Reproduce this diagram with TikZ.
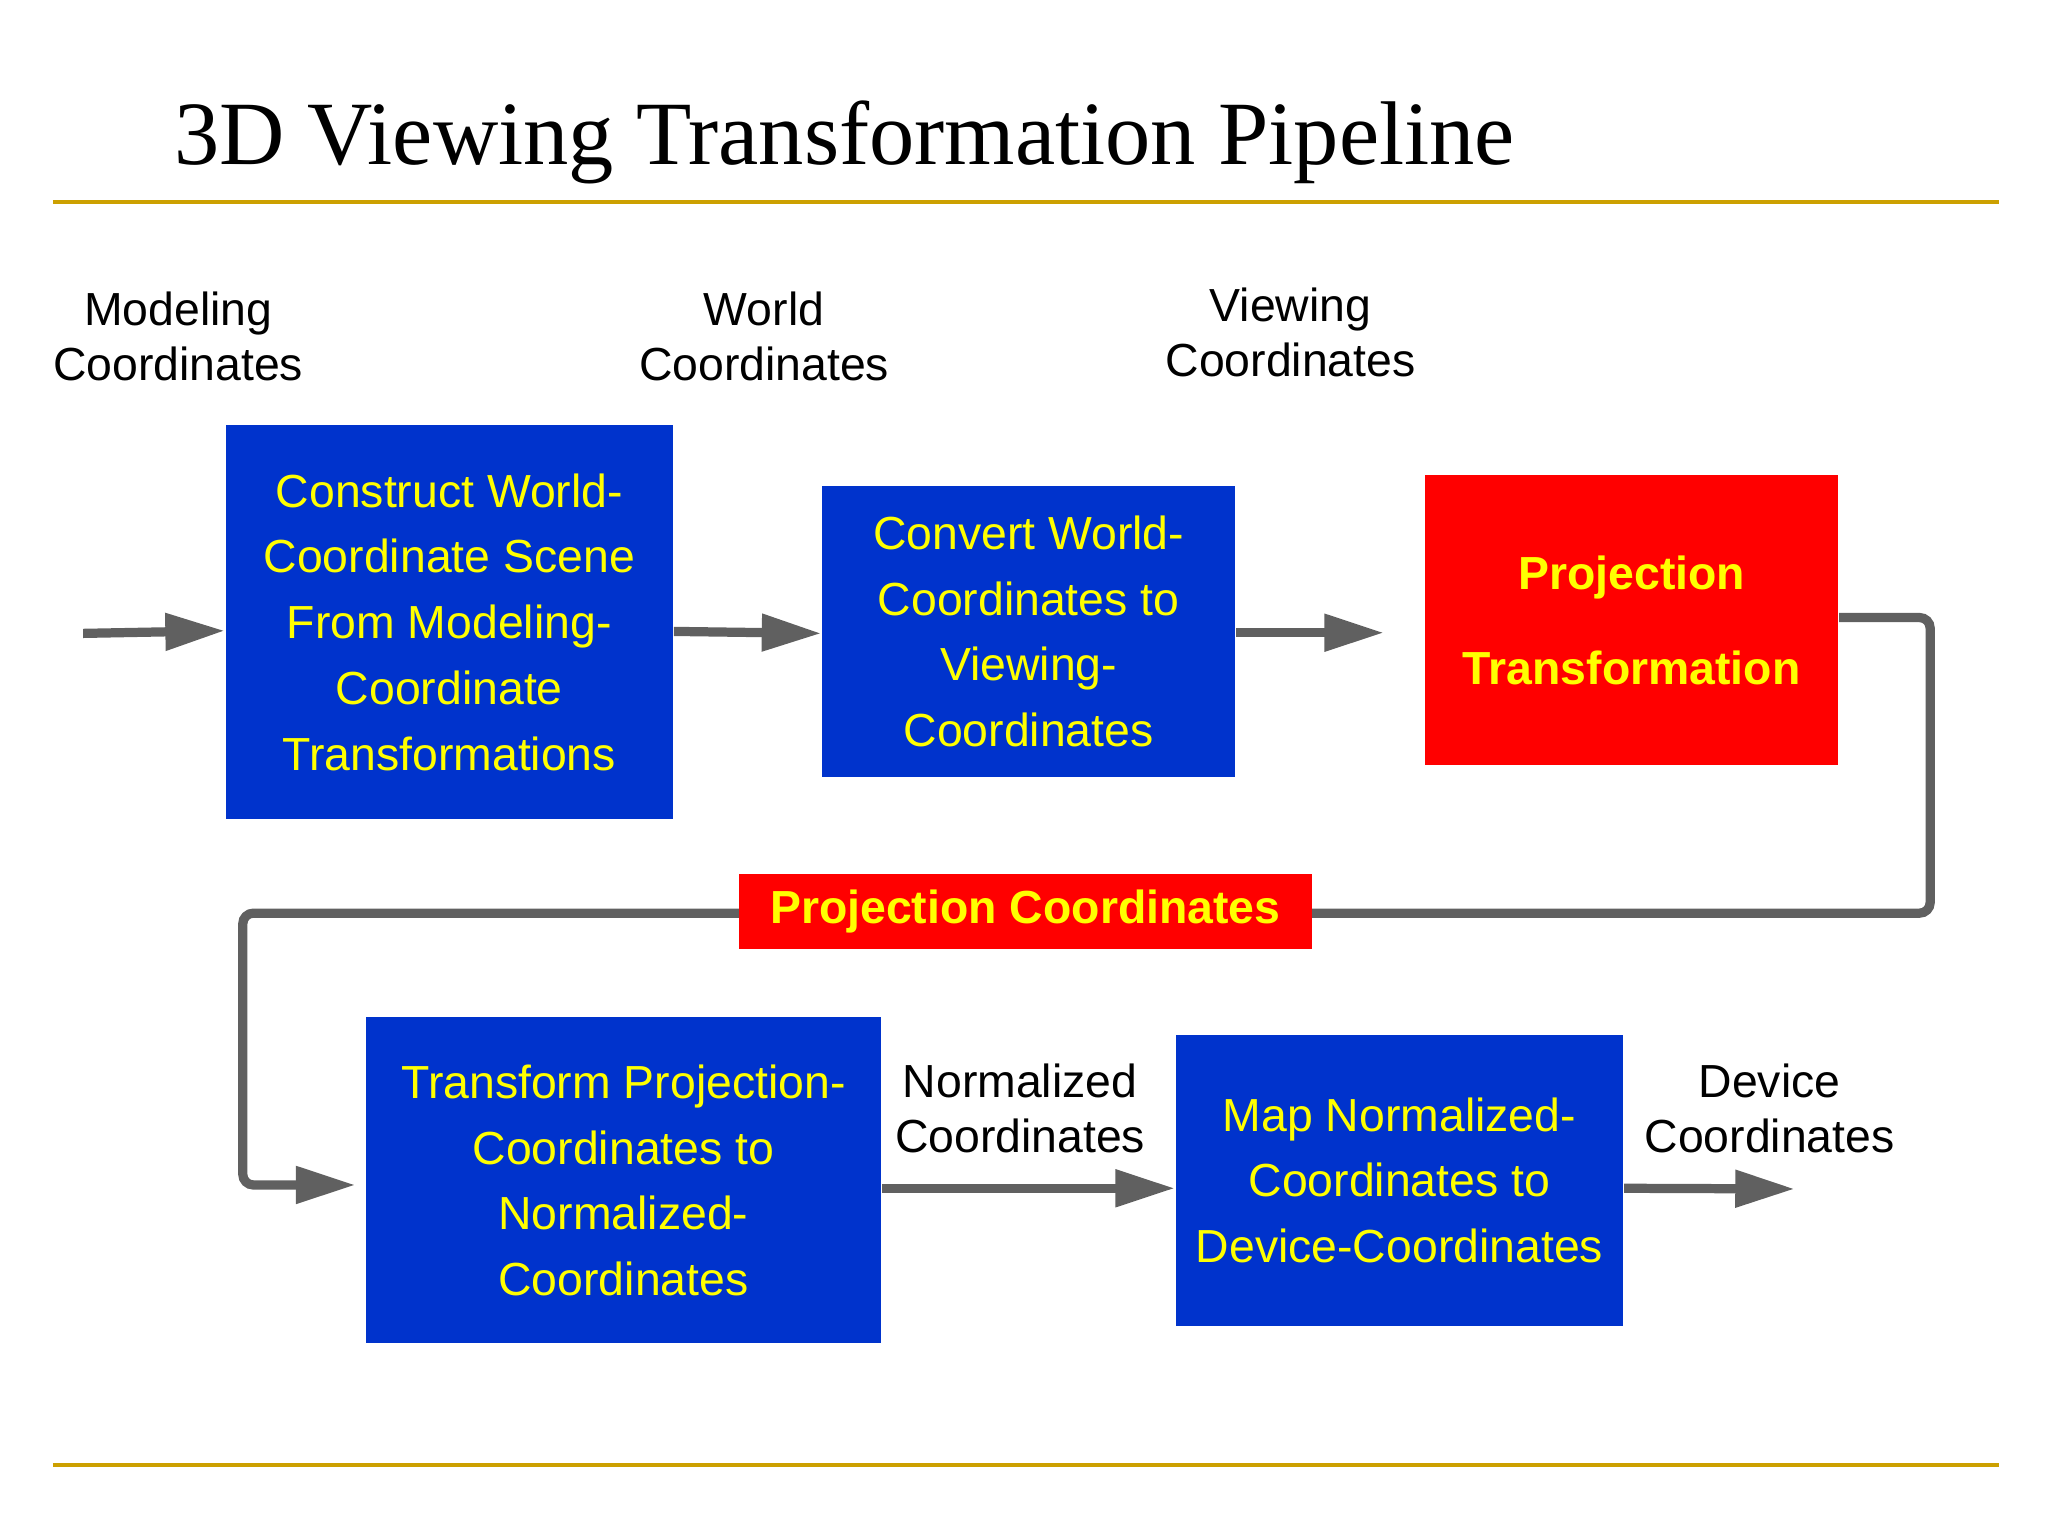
\documentclass[tikz,border=0pt]{standalone}
\usepackage{fontspec}
\setmainfont{Liberation Sans}
\newfontfamily\titlefont{Liberation Serif}
\usetikzlibrary{positioning,arrows.meta}
\definecolor{stageblue}{RGB}{0,51,204}
\definecolor{rulegold}{RGB}{204,160,0}
\definecolor{pipegray}{RGB}{96,96,96}
\definecolor{textyellow}{RGB}{255,255,0}

\begin{document}
\begin{tikzpicture}[
      stage/.style={rectangle, fill=stageblue, text=textyellow, align=center, font=\fontsize{10}{14.2}\selectfont, inner sep=0pt},
      hot/.style={rectangle, fill=red, text=textyellow, align=center, font=\bfseries\fontsize{10}{20.4}\selectfont, inner sep=0pt},
      lbl/.style={align=center, font=\fontsize{10}{11.8}\selectfont},
      pipe/.style={draw=pipegray, line width=0.07cm, -{Triangle[length=0.45cm, width=0.27cm]}},
      ]
      \useasboundingbox (0,0) rectangle (15.52,-11.64);
      \node[anchor=base west, font=\titlefont\fontsize{19.5}{22}\selectfont] (title) at (1.20,-1.25) {3D Viewing Transformation Pipeline};
      \draw[rulegold, line width=0.03cm] (0.40,-1.53) -- (15.15,-1.53);
      \draw[rulegold, line width=0.03cm] (0.40,-11.10) -- (15.15,-11.10);

      \node[lbl] (MC) at (1.35,-2.55) {Modeling\\Coordinates};
      \node[lbl] (WC) at (5.79,-2.55) {World\\Coordinates};
      \node[lbl] (VC) at (9.78,-2.52) {Viewing\\Coordinates};
      \node[lbl] (NC) at (7.73,-8.40) {Normalized\\Coordinates};
      \node[lbl] (DC) at (13.41,-8.40) {Device\\Coordinates};

      \node[stage, minimum width=3.39cm, minimum height=2.99cm] (CW) at (3.405,-4.715) {Construct World-\\Coordinate Scene\\From Modeling-\\Coordinate\\Transformations};
      \node[stage, minimum width=3.13cm, minimum height=2.21cm] (CV) at (7.795,-4.785) {Convert World-\\Coordinates to\\Viewing-\\Coordinates};
      \node[hot, minimum width=3.13cm, minimum height=2.20cm] (PT) at (12.365,-4.70) {Projection\\Transformation};
      \node[stage, minimum width=3.91cm, minimum height=2.47cm] (TP) at (4.725,-8.945) {Transform Projection-\\Coordinates to\\Normalized-\\Coordinates};
      \node[stage, minimum width=3.39cm, minimum height=2.21cm] (MN) at (10.605,-8.945) {Map Normalized-\\Coordinates to\\Device-Coordinates};

      \coordinate (in) at (0.63,-4.80);
      \coordinate (out) at (13.60,-9.01);
      \draw[pipe] (in) -- (CW.west |- 0,-4.78);
      \draw[pipe] ([yshift=-0.07cm]CW.east) -- (CV.west |- 0,-4.80);
      \draw[pipe] ([yshift=-0.01cm]CV.east) -- ++(1.12,0);
      \draw[pipe, rounded corners=0.08cm] ([yshift=0.02cm]PT.east) -- ++(0.69,0) |- (1.84,-6.92) |- ([xshift=-0.07cm]TP.west |- 0,-8.98);
      \node[hot, font=\bfseries\fontsize{10}{12}\selectfont, minimum width=4.34cm, minimum height=0.57cm] (PC) at (7.77,-6.905) {Projection Coordinates};
      \draw[pipe] ([yshift=-0.06cm]TP.east) -- ([yshift=-0.06cm]MN.west);
      \draw[pipe] ([yshift=-0.06cm]MN.east) -- (out);
    \end{tikzpicture}
\end{document}
